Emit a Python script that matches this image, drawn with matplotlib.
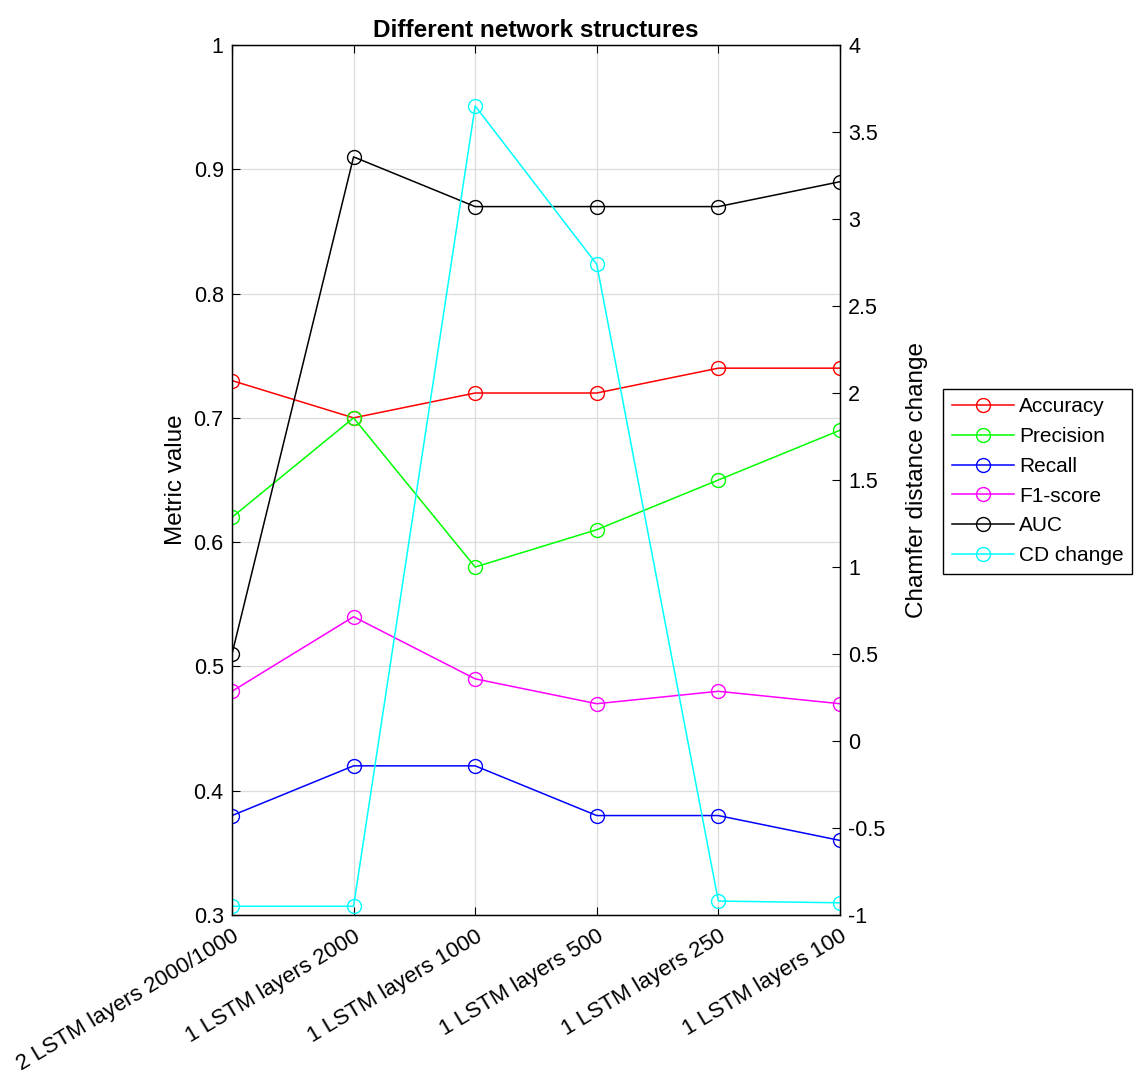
import matplotlib.pyplot as plt
import numpy as np

plt.rcParams['font.family'] = ['Liberation Sans', 'DejaVu Sans']

structures = ['2 LSTM layers 2000/1000', '1 LSTM layers 2000', '1 LSTM layers 1000',
              '1 LSTM layers 500', '1 LSTM layers 250', '1 LSTM layers 100']
accuracy = [0.73, 0.70, 0.72, 0.72, 0.74, 0.74]
precision = [0.62, 0.70, 0.58, 0.61, 0.65, 0.69]
recall = [0.38, 0.42, 0.42, 0.38, 0.38, 0.36]
f1_score = [0.48, 0.54, 0.49, 0.47, 0.48, 0.47]
auc = [0.51, 0.91, 0.87, 0.87, 0.87, 0.89]
cd_change = [-0.95, -0.95, 3.65, 2.74, -0.92, -0.93]

left_ticks = [0.3, 0.4, 0.5, 0.6, 0.7, 0.8, 0.9, 1.0]
left_labels = ['0.3', '0.4', '0.5', '0.6', '0.7', '0.8', '0.9', '1']
right_ticks = [-1, -0.5, 0, 0.5, 1, 1.5, 2, 2.5, 3, 3.5, 4]
right_labels = ['-1', '-0.5', '0', '0.5', '1', '1.5', '2', '2.5', '3', '3.5', '4']

x = np.arange(len(structures))

fig = plt.figure(figsize=(11.35, 10.8), dpi=100)
ax = fig.add_axes([0.2044, 0.1528, 0.5356, 0.8055])
ax2 = ax.twinx()

mk = dict(marker='o', markerfacecolor='none', markersize=10, linewidth=1.1)
h1, = ax.plot(x, accuracy, color='red', label='Accuracy', **mk)
h2, = ax.plot(x, precision, color=(0, 1, 0), label='Precision', **mk)
h3, = ax.plot(x, recall, color='blue', label='Recall', **mk)
h4, = ax.plot(x, f1_score, color='magenta', label='F1-score', **mk)
h5, = ax.plot(x, auc, color='black', label='AUC', **mk)
h6, = ax2.plot(x, cd_change, color='cyan', label='CD change', **mk)

ax.set_xlim(0, len(structures) - 1)
ax.set_ylim(0.3, 1.0)
ax2.set_ylim(-1, 4)
ax.set_yticks(left_ticks)
ax.set_yticklabels(left_labels)
ax2.set_yticks(right_ticks)
ax2.set_yticklabels(right_labels)
ax.set_xticks(x)
ax.set_xticklabels(structures, rotation=31, ha='right', rotation_mode='anchor')

ax.grid(True, color='#dcdcdc', linewidth=0.9)
ax.set_axisbelow(True)

for a in (ax, ax2):
    a.tick_params(direction='in', labelsize=15.5, length=6, width=0.8, pad=6)
    for s in a.spines.values():
        s.set_linewidth(0.9)
ax.tick_params(axis='x', top=True, labelsize=16, pad=8)
ax.tick_params(axis='y', right=False)

ax.set_ylabel('Metric value', fontsize=17.5, labelpad=5)
ax2.set_ylabel('Chamfer distance change', fontsize=17.5, labelpad=15)
ax.set_title('Different network structures', fontsize=17.5, fontweight='bold', pad=6)

fig.legend([h1, h2, h3, h4, h5, h6],
           ['Accuracy', 'Precision', 'Recall', 'F1-score', 'AUC', 'CD change'],
           loc='upper left', bbox_to_anchor=(0.831, 0.640), fontsize=15,
           fancybox=False, edgecolor='black', framealpha=1, borderaxespad=0,
           handlelength=3.0, handletextpad=0.25, labelspacing=0.52, borderpad=0.4)

fig.savefig('out.png', dpi=100, facecolor='white')
